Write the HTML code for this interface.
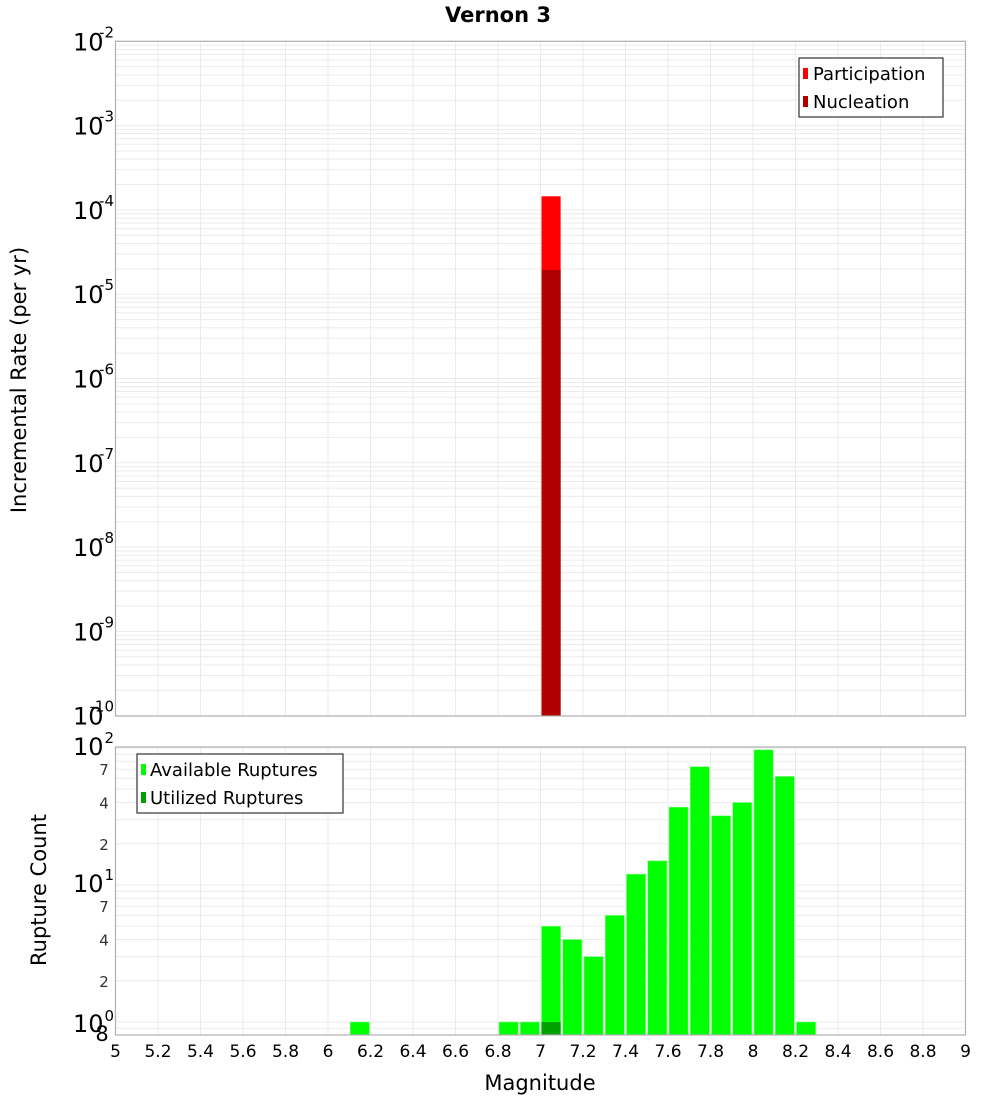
<!DOCTYPE html>
<html><head><meta charset="utf-8"><style>
body{margin:0;background:#fff}
svg text{font-family:"DejaVu Sans","Liberation Sans",sans-serif}
</style></head><body>
<svg id="c" width="1000" height="1100" xmlns="http://www.w3.org/2000/svg">
<text x="498" y="22" text-anchor="middle" font-size="21" font-weight="bold">Vernon 3</text>
<g id="topg"></g>
<g id="botg"></g>
<text transform="translate(26,380) rotate(-90)" text-anchor="middle" font-size="21">Incremental Rate (per yr)</text>
<text transform="translate(46,890) rotate(-90)" text-anchor="middle" font-size="21">Rupture Count</text>
<text x="540" y="1090" text-anchor="middle" font-size="21">Magnitude</text>
<g>
<rect x="799" y="58" width="144" height="59" fill="#fff" stroke="#333" stroke-width="1.2"/>
<rect x="803" y="68" width="5" height="11" fill="#ff0000"/>
<text x="813" y="80" font-size="18">Participation</text>
<rect x="803" y="96" width="5" height="11" fill="#b00000"/>
<text x="813" y="108" font-size="18">Nucleation</text>
</g>
<g>
<rect x="137" y="754" width="206" height="59" fill="#fff" stroke="#333" stroke-width="1.2"/>
<rect x="141" y="764" width="5" height="11" fill="#00ff00"/>
<text x="150" y="776" font-size="18">Available Ruptures</text>
<rect x="141" y="792" width="5" height="11" fill="#00a000"/>
<text x="150" y="804" font-size="18">Utilized Ruptures</text>
</g>
</svg>
<script>
const xTicks=["5","5.2","5.4","5.6","5.8","6","6.2","6.4","6.6","6.8","7","7.2","7.4","7.6","7.8","8","8.2","8.4","8.6","8.8","9"];
const rateMags=[7.0];
const participation=[1.45e-4];
const nucleation=[1.94e-5];
const countMags=[6.1,6.8,6.9,7.0,7.1,7.2,7.3,7.4,7.5,7.6,7.7,7.8,7.9,8.0,8.1,8.2];
const available=[1,1,1,5,4,3,6,12,15,37,73,32,40,97,62,1];
const utilizedMags=[7.0];
const utilized=[1];
const topExps=[-2,-3,-4,-5,-6,-7,-8,-9,-10];
const botExps=[2,1,0];
const minorLabels=["2","4","7"];

const NS="http://www.w3.org/2000/svg";
const L=115.5,R=965.5;
const X=m=>L+(m-5)/4*(R-L);
const T0=41.3,TB=716,TD=84.3;
const yT=v=>T0+(-2-Math.log10(v))*TD;
const B0=1022,BD=137,BT=747,BB=1035;
const yB=v=>B0-Math.log10(v)*BD;
function mk(tag,at,parent){const e=document.createElementNS(NS,tag);for(const k in at)e.setAttribute(k,at[k]);parent.appendChild(e);return e;}
const gTop=document.getElementById('topg'),gBot=document.getElementById('botg');

function grid(g,y0,y1,yf,lo,hi){
  for(let d=lo;d<hi;d++)for(let k=1;k<10;k++){const y=yf(k*Math.pow(10,d));if(y>=y0&&y<=y1){const l=mk('line',{x1:L,x2:R,y1:y,y2:y,stroke:'#ebebeb','stroke-width':1},g);}}
  xTicks.forEach(t=>{const x=X(+t);const l=mk('line',{x1:x,x2:x,y1:y0,y2:y1,stroke:'#ebebeb','stroke-width':1},g);});
}
grid(gTop,T0,TB,yT,-11,-1);
grid(gBot,BT,BB,yB,-1,3);

rateMags.forEach((m,i)=>{
  const x=X(m)+1,w=X(m+0.09)-X(m);
  const p=mk('rect',{x:x,y:yT(participation[i]),width:w,height:TB-yT(participation[i]),fill:'#ff0000'},gTop);
  
  const n=mk('rect',{x:x,y:yT(nucleation[i]),width:w,height:TB-yT(nucleation[i]),fill:'#b00000'},gTop);
  
});
countMags.forEach((m,i)=>{
  const x=X(m)+1,w=X(m+0.09)-X(m);
  const y=Math.max(yB(available[i]),BT);
  const b=mk('rect',{x:x,y:y,width:w,height:BB-y,fill:'#00ff00',stroke:'#80ff80','stroke-width':0.6},gBot);
  
});
utilizedMags.forEach((m,i)=>{
  const x=X(m)+1,w=X(m+0.09)-X(m);
  const b=mk('rect',{x:x,y:yB(utilized[i]),width:w,height:BB-yB(utilized[i]),fill:'#00a000'},gBot);
  
});
[[gTop,T0,TB],[gBot,BT,BB]].forEach(([g,a,b])=>{const r=mk('rect',{x:L,y:a,width:R-L,height:b-a,fill:'none',stroke:'#b0b0b0','stroke-width':1.2},g);});

topExps.forEach(e=>{
  const y=yT(Math.pow(10,e));
  const t=mk('text',{x:73,y:y+9,'font-size':24},gTop);t.textContent='10';
  
  const s=mk('text',{x:114,y:y-4,'font-size':15,'text-anchor':'end'},gTop);s.textContent=String(e);
  
});
botExps.forEach(e=>{
  const y=yB(Math.pow(10,e));
  const t=mk('text',{x:73,y:y+(e===0?10:7),'font-size':24},gBot);t.textContent='10';
  
  const s=mk('text',{x:114,y:y-(e===0?1:5),'font-size':15,'text-anchor':'end'},gBot);s.textContent=String(e);
  
  if(e<2)minorLabels.forEach(ml=>{const yy=yB(+ml*Math.pow(10,e));const m=mk('text',{x:104,y:yy+6,'font-size':15,'text-anchor':'middle',fill:'#333'},gBot);m.textContent=ml;});
});
{const t=mk('text',{x:102,y:1041,'font-size':21,'text-anchor':'middle'},gBot);t.textContent='8';}
xTicks.forEach(tk=>{const t=mk('text',{x:X(+tk),y:1057,'font-size':17,'text-anchor':'middle'},gBot);t.textContent=tk;});
</script>
</body></html>
